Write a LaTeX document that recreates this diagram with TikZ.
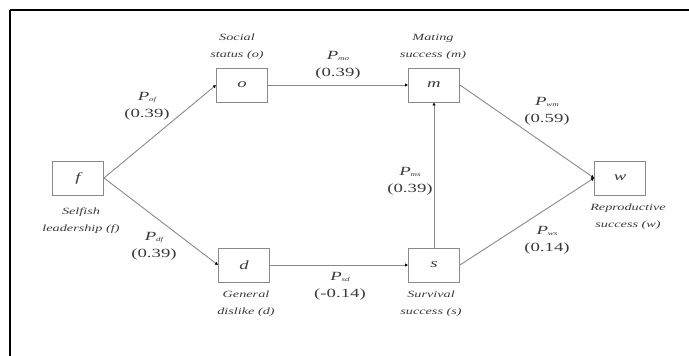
\documentclass[tikz,border=0pt]{standalone}
\usepackage{fontspec}
\setmainfont{Liberation Serif}
\usepackage{graphicx}
\usetikzlibrary{arrows.meta}
\definecolor{ln}{HTML}{8A8A8A}
\definecolor{tx}{HTML}{3A3A3A}
\newcommand{\wide}[1]{\scalebox{1.5}[1]{#1}}
\tikzset{
  var/.style={draw=ln, line width=0.9pt, minimum width=51pt, minimum height=34pt, inner sep=0pt, text=tx, font=\fontsize{12.5}{14}\selectfont\itshape},
  desc/.style={align=center, text=tx, font=\fontsize{9.5}{17}\selectfont\itshape, inner sep=0pt},
  coef/.style={align=center, text=tx, font=\fontsize{12.5}{17}\selectfont, inner sep=0pt},
  path/.style={draw=ln, line width=0.9pt, -{Latex[length=3pt,width=3.5pt,black]}},
  frame/.style={draw=black}
}
\newcommand{\pcoef}[2]{\wide{\textit{P}\raisebox{-1.5pt}{\fontsize{6}{6}\selectfont\itshape #1}}\\\wide{(#2)}}
\begin{document}
\begin{tikzpicture}[x=1pt,y=-1pt]
\useasboundingbox (0,0) rectangle (689,356);
\coordinate (tl) at (10,10);
\coordinate (tr) at (689,10);
\coordinate (bl) at (10,356);
\draw[frame, line width=1.4pt] (tr) -- (tl);
\draw[frame, line width=2pt] (tl) -- (bl);

\node[var] (f) at (78,178) {\wide{f}};
\node[var] (o) at (242,85) {\wide{o}};
\node[var] (m) at (434,85) {\wide{m}};
\node[var] (d) at (244,265) {\wide{d}};
\node[var] (s) at (434,265) {\wide{s}};
\node[var] (w) at (620,178) {\wide{w}};

\node[desc] (lo) at (237,47) {\wide{Social}\\\wide{status (\textit{o})}};
\node[desc] (lm) at (433,47) {\wide{Mating}\\\wide{success (\textit{m})}};
\node[desc] (lf) at (81,221) {\wide{Selfish}\\\wide{leadership (\textit{f})}};
\node[desc] (ld) at (246,304) {\wide{General}\\\wide{dislike (\textit{d})}};
\node[desc] (ls) at (431,304) {\wide{Survival}\\\wide{success (\textit{s})}};
\node[desc] (lw) at (628,217) {\wide{Reproductive}\\\wide{success (\textit{w})}};

\draw[path] (f.east) -- (o.west);
\draw[path] (f.east) -- (d.west);
\draw[path] (o.east) -- (m.west);
\draw[path] (d.east) -- (s.west);
\draw[path] (s.north) -- (m.south);
\draw[path] (m.east) -- (w.west);
\draw[path] (s.east) -- (w.west);

\node[coef] (cof) at (147,106) {\pcoef{of}{0.39}};
\node[coef] (cmo) at (338,65) {\pcoef{mo}{0.39}};
\node[coef] (cwm) at (547,111) {\pcoef{wm}{0.59}};
\node[coef] (cms) at (410,181) {\pcoef{ms}{0.39}};
\node[coef] (cdf) at (154,246) {\pcoef{df}{0.39}};
\node[coef] (csd) at (340,286) {\pcoef{sd}{-0.14}};
\node[coef] (cws) at (547,240) {\pcoef{ws}{0.14}};
\end{tikzpicture}
\end{document}
